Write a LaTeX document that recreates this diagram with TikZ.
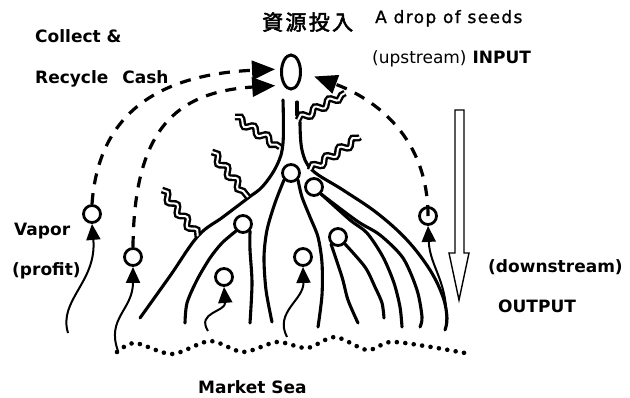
\documentclass[tikz,border=0pt]{standalone}
\usepackage{fontspec}
\usepackage{tikz}
\usetikzlibrary{arrows.meta,shapes.geometric,decorations.pathmorphing}
\newfontfamily\lblfont{DejaVu Sans}
\newfontfamily\seedfont{DejaVu Sans}[LetterSpace=8.0,FakeBold=1.2]
\newfontfamily\cjkfont{Noto Sans CJK JP}[FakeBold=2.5,LetterSpace=11.0]
\tikzset{
  txt/.style     = {inner sep=0pt, anchor=base west,
                    font=\lblfont\fontsize{17}{20}\selectfont\bfseries},
  bubble/.style  = {circle, draw, line width=2.8pt, inner sep=0pt,
                    minimum size=17pt},
  seedpt/.style  = {ellipse, draw, line width=3pt, inner sep=0pt,
                    minimum width=19pt, minimum height=34pt},
  stream/.style  = {line width=3.1pt, line cap=round, line join=round},
  steam/.style   = {decorate, decoration={snake, amplitude=3.2pt,
                    segment length=16pt}, double=white,
                    double distance=2pt, line width=2.4pt},
  cashar/.style  = {line width=3.2pt, dash pattern=on 11pt off 9pt,
                    -{Triangle[length=23pt,width=19pt]}},
  vapar/.style   = {line width=2pt, -{Triangle[length=16pt,width=14pt]}},
  seadots/.style = {line width=4.6pt, line cap=round,
                    dash pattern=on 0pt off 8.5pt}
}

\begin{document}
\begin{tikzpicture}[x=1pt, y=-1pt]
  \useasboundingbox (0,0) rectangle (630,397);

  % labels
  \node[txt] (lcollect) at (35,42) {Collect \&};
  \node[txt] (lrecycle) at (35,83) {Recycle\hspace{14pt}Cash};
  \node[txt, font=\cjkfont\fontsize{21}{24}\selectfont] (lcjk) at (262,30) {資源投入};
  \node[txt, font=\seedfont\fontsize{17}{20}\selectfont] (ldrop) at (375,23) {A drop of seeds};
  \node[txt] (linput) at (372,63) {{\mdseries(upstream)} INPUT};
  \node[txt] (lvapor) at (14,235) {Vapor};
  \node[txt] (lprofit) at (12,275) {(profit)};
  \node[txt] (ldown) at (488,272) {(downstream)};
  \node[txt] (loutput) at (498,312) {OUTPUT};
  \node[txt] (lsea) at (198,393) {Market Sea};

  % seed and bubbles
  \node[seedpt] (seed) at (291,72) {};
  \foreach \n/\x/\y in {v1/92/214, v2/133/257, v3/224/277, v4/303/257, v5/428/216,
                        bA/291/173, bB/243/224, bC/314/187, bD/338/237}
    { \node[bubble] (\n) at (\x,\y) {}; }

  % trunk edges
  \draw[stream] plot[smooth, tension=0.6] coordinates {(283,100) (283,143) (277,165)
    (263,186) (248,198) (223,217) (198,236) (170,276) (140,318)};
  \draw[stream] (297,102) -- (297,115);
  \draw[stream] plot[smooth, tension=0.6] coordinates {(300,122) (302,150) (312,170)
    (343,190) (377,213) (407,240) (430,270) (443,297) (447,318) (445,330)};

  % streams running down from the bubbles
  \draw[stream] plot[smooth] coordinates {(bA.south west) (275,203) (267,230) (264,257) (266,290) (272,322)};
  \draw[stream] plot[smooth] coordinates {(bA.south east) (302,197) (310,217) (318,237) (322,263) (322,295) (318,327)};
  \draw[stream] plot[smooth] coordinates {(bB.south west) (222,243) (210,258) (197,280) (187,303) (185,323)};
  \draw[stream] plot[smooth] coordinates {(bB.south east) (250,250) (252,283) (250,323)};
  \draw[stream] plot[smooth] coordinates {(bC.south east) (350,220) (367,233) (383,257) (394,283) (400,307) (402,327)};
  \draw[stream] plot[smooth] coordinates {(bC.south east) (357,221) (380,235) (403,258) (417,290) (422,317) (420,327)};
  \draw[stream] plot[smooth] coordinates {(bD.south west) (342,277) (348,300) (358,323)};
  \draw[stream] plot[smooth] coordinates {(bD.south east) (365,267) (375,287) (382,303) (384,318)};

  % wavy branch tips
  \draw[steam] (235,117) -- (280,147);
  \draw[steam] (212,152) -- (248,197);
  \draw[steam] (162,190) -- (198,236);
  \draw[steam] (298,120) -- (345,93);
  \draw[steam] (310,170) -- (360,137);

  % vapor rising from the sea
  \coordinate (t1) at (68,333);
  \coordinate (t2) at (118,351);
  \coordinate (t3) at (208,331);
  \coordinate (t4) at (287,337);
  \coordinate (t5) at (446,325);
  \draw[vapar] (t1) .. controls (58,300) and (97,282) .. (v1.south);
  \draw[vapar] (t2) .. controls (106,318) and (133,310) .. (v2.south);
  \draw[vapar] (t3) .. controls (196,312) and (226,312) .. (v3.south);
  \draw[vapar] (t4) .. controls (274,312) and (304,300) .. (v4.south);
  \draw[vapar] (t5) .. controls (449,282) and (430,268) .. (v5.south);

  % cash flowing back to the seed
  \draw[cashar, shorten >=5pt] (v1.north) .. controls (98,120) and (150,75) .. ([yshift=3pt]seed.west);
  \draw[cashar, shorten >=8pt] (v2.north) .. controls (134,130) and (175,92) .. (seed.south west);
  \draw[cashar, shorten >=13pt] (v5.center) .. controls (428,130) and (365,95) .. (seed.east);

  % downstream arrow
  \draw[line width=1.4pt, line join=miter] (455,110) -- (464,110) -- (464,253) -- (469,253)
    -- (459,300) -- (449,253) -- (455,253) -- cycle;

  % market sea
  \draw[seadots] plot[smooth] coordinates {(117,352) (135,343) (172,354) (210,341)
    (243,352) (277,342) (307,348) (335,337) (367,350) (390,342) (425,346) (465,353)};
\end{tikzpicture}
\end{document}
